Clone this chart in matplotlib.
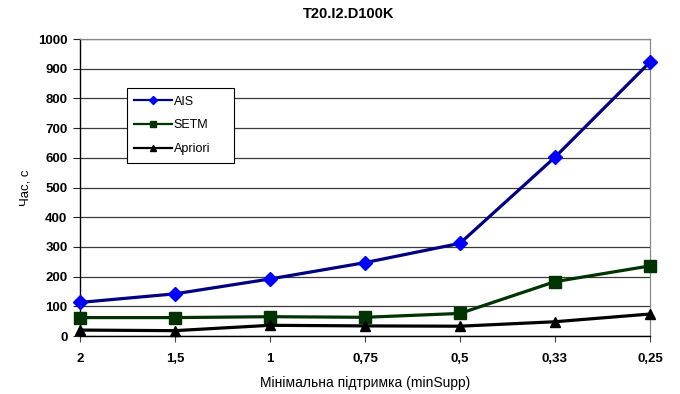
import matplotlib
import matplotlib.pyplot as plt
from matplotlib.lines import Line2D

matplotlib.use('Agg')
plt.rc('font', family=['Liberation Sans', 'DejaVu Sans'])

# minimum support values (category axis) and run times, s
supports = ['2', '1,5', '1', '0,75', '0,5', '0,33', '0,25']
ais = [113, 142, 192, 247, 312, 602, 922]
setm = [62, 62, 65, 63, 76, 183, 236]
apriori = [20, 18, 36, 34, 33, 48, 74]

labels = ['AIS', 'SETM', 'Apriori']
line_colors = ['#000080', '#003300', '#000000']
marker_colors = ['#0000FF', '#003300', '#000000']
markers = ['D', 's', '^']
marker_sizes = [7, 8.5, 7.5]


def main():
    fig = plt.figure(figsize=(6.8, 3.94), dpi=100)
    ax = fig.add_axes([0.1176, 0.1472, 0.8382, 0.7538])

    r = list(range(len(supports)))
    series = [ais, setm, apriori]
    for i in range(len(series)):
        ax.plot(r, series[i], color=line_colors[i], linewidth=2.3,
                marker=markers[i], markersize=marker_sizes[i],
                markerfacecolor=marker_colors[i], markeredgecolor=marker_colors[i],
                clip_on=False, zorder=3 + i)

    ax.set_xlim(0, 6)
    ax.set_ylim(0, 1000)
    ax.set_xticks(r)
    ax.set_xticklabels(supports, fontweight='bold', fontsize=9.5)
    ax.set_yticks(range(0, 1001, 100))
    ax.set_yticklabels([str(v) for v in range(0, 1001, 100)], fontweight='bold', fontsize=9.5)
    ax.tick_params(axis='x', direction='out', length=4, width=0.8, pad=8, color='#444444')
    ax.tick_params(axis='y', direction='out', length=5, width=0.8, pad=4, color='#222222')

    ax.grid(axis='y', color='#3a3a3a', linewidth=0.9)
    ax.set_axisbelow(True)
    ax.spines['left'].set_color('black')
    ax.spines['left'].set_linewidth(1.0)
    ax.spines['bottom'].set_color('black')
    ax.spines['bottom'].set_linewidth(1.0)
    ax.spines['top'].set_color('#888888')
    ax.spines['top'].set_linewidth(0.9)
    ax.spines['right'].set_color('#888888')
    ax.spines['right'].set_linewidth(0.9)

    # chart title is centred on the chart area, not on the plot area
    fig.text(0.513, 0.964, 'T20.I2.D100K', fontweight='bold', fontsize=10.5,
             ha='center', va='center')
    ax.set_xlabel('Мінімальна підтримка (minSupp)', fontsize=10, labelpad=8)
    ax.set_ylabel('Час, с', fontsize=9.5, labelpad=5)

    handles = [Line2D([], [], color=line_colors[i], linewidth=1.6, marker=markers[i],
                      markersize=4, markerfacecolor=marker_colors[i],
                      markeredgecolor=marker_colors[i]) for i in range(3)]
    leg = ax.legend(handles, labels, loc='upper left',
                    bbox_to_anchor=(0.0825, 0.589, 0.188, 0.246), mode='expand',
                    fontsize=9, frameon=True, fancybox=False, framealpha=1,
                    edgecolor='black', handlelength=3.0, handletextpad=0.15,
                    labelspacing=0.95, borderpad=0.6, borderaxespad=0)
    leg.get_frame().set_linewidth(0.8)

    plt.savefig('out.png', dpi=100)
    plt.close()


if __name__ == '__main__':
    main()
